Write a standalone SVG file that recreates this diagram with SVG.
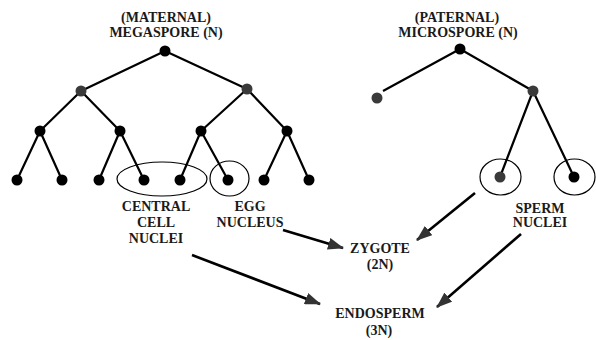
<svg xmlns="http://www.w3.org/2000/svg" width="596" height="340" viewBox="0 0 596 340">
<style>
text{font-family:"Liberation Serif","Times New Roman",serif;font-size:14px;font-weight:bold;fill:#1a1a1a;text-anchor:middle}
.e{stroke:#000;stroke-width:2.2;fill:none}
.d{fill:#000}
.g{fill:#3a3a3a}
.ring{fill:none;stroke:#000;stroke-width:1.2}
.a{stroke:#000;stroke-width:2.6;fill:none;marker-end:url(#ah)}
</style>
<defs>
<marker id="ah" viewBox="0 0 16 12" refX="15" refY="6" markerWidth="16" markerHeight="12" markerUnits="userSpaceOnUse" orient="auto">
<path d="M0,0 L16,6 L0,12 Z" fill="#333"/>
</marker>
</defs>
<rect width="596" height="340" fill="#fff"/>
<g id="tree-edges">
<path class="e" d="M165,51 L81,91 M165,51 L247,89 M81,91 L40,131 M81,91 L120,131 M247,89 L201,131 M247,89 L287,131 M40,131 L17,180 M40,131 L62,180 M120,131 L99,180 M120,131 L144,180 M201,131 L180,180 M201,131 L228,180 M287,131 L264,180 M287,131 L309,180"/>
<path class="e" d="M460,49 L383,91 M460,49 L533,91 M533,91 L500,177 M533,91 L574,177"/>
</g>
<g id="maternal">
<text x="166" y="22">(MATERNAL)</text>
<text x="166" y="37">MEGASPORE (N)</text>
<circle class="d" cx="165" cy="51" r="5.5"/>
<circle class="g" cx="81" cy="91" r="5.5"/>
<circle class="g" cx="247" cy="89" r="5.5"/>
<circle class="d" cx="40" cy="131" r="5.5"/>
<circle class="d" cx="120" cy="131" r="5.5"/>
<circle class="d" cx="201" cy="131" r="5.5"/>
<circle class="d" cx="287" cy="131" r="5.5"/>
<circle class="d" cx="17" cy="180" r="5.5"/>
<circle class="d" cx="62" cy="180" r="5.5"/>
<circle class="d" cx="99" cy="180" r="5.5"/>
<circle class="d" cx="264" cy="180" r="5.5"/>
<circle class="d" cx="309" cy="180" r="5.5"/>
</g>
<g id="central-cell">
<ellipse class="ring" cx="162" cy="179" rx="45" ry="17"/>
<circle class="d" cx="144" cy="180" r="5.5"/>
<circle class="d" cx="180" cy="180" r="5.5"/>
<text x="156" y="211">CENTRAL</text>
<text x="156" y="227">CELL</text>
<text x="156" y="243">NUCLEI</text>
</g>
<g id="egg">
<ellipse class="ring" cx="229.5" cy="178.5" rx="19.5" ry="17.5"/>
<circle class="d" cx="228" cy="180" r="5.5"/>
<text x="250" y="211">EGG</text>
<text x="250" y="227">NUCLEUS</text>
</g>
<g id="paternal">
<text x="457" y="22">(PATERNAL)</text>
<text x="458" y="37">MICROSPORE (N)</text>
<circle class="d" cx="460" cy="49" r="5.5"/>
<circle class="g" cx="377" cy="98" r="5.5"/>
<circle class="g" cx="533" cy="91" r="5.5"/>
</g>
<g id="sperm">
<ellipse class="ring" cx="500.5" cy="177" rx="20.5" ry="18"/>
<ellipse class="ring" cx="574.5" cy="177" rx="20.5" ry="18"/>
<circle class="g" cx="500" cy="177" r="5.5"/>
<circle class="d" cx="574" cy="177" r="5.5"/>
<text x="540" y="213">SPERM</text>
<text x="540" y="227">NUCLEI</text>
</g>
<g id="zygote">
<text x="380" y="253">ZYGOTE</text>
<text x="380" y="269">(2N)</text>
</g>
<g id="endosperm">
<text x="380" y="318">ENDOSPERM</text>
<text x="379" y="335">(3N)</text>
</g>
<g id="connectors">
<line class="a" x1="283" y1="230" x2="343" y2="248"/>
<line class="a" x1="192" y1="255" x2="320" y2="304"/>
<line class="a" x1="475" y1="193" x2="417" y2="240"/>
<line class="a" x1="521" y1="234" x2="437" y2="307"/>
</g>
</svg>
